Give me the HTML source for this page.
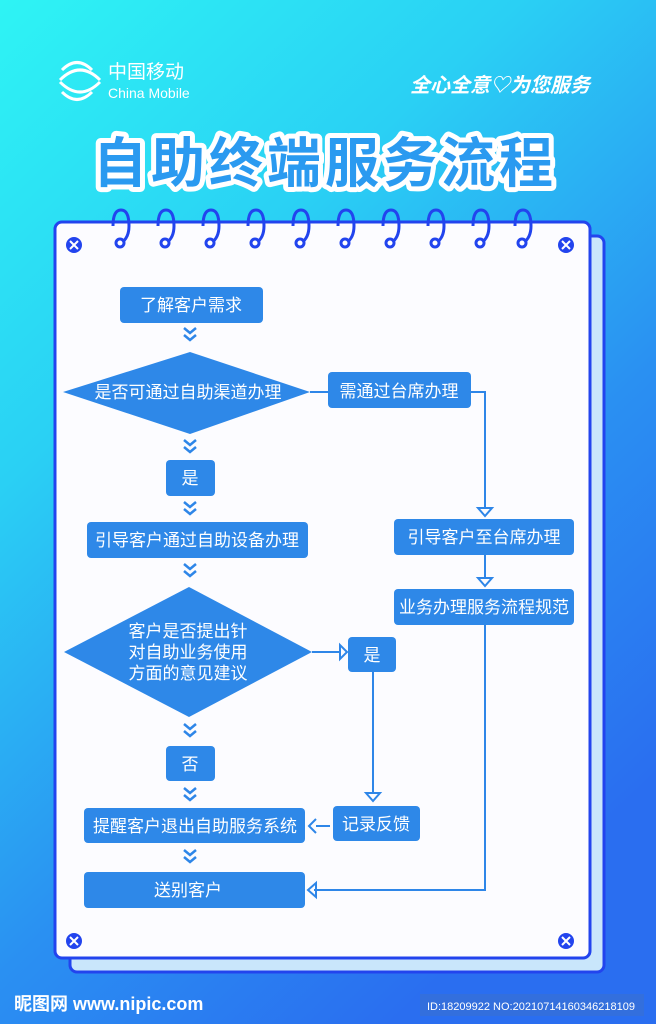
<!DOCTYPE html>
<html><head><meta charset="utf-8"><style>
body{margin:0;width:656px;height:1024px;overflow:hidden;font-family:"Liberation Sans","Noto Sans CJK SC",sans-serif}
</style></head><body>
<svg width="656" height="1024" viewBox="0 0 656 1024" xmlns="http://www.w3.org/2000/svg" font-family="Liberation Sans, Noto Sans CJK SC, sans-serif">
<defs>
<linearGradient id="bg" x1="0" y1="0" x2="0.6" y2="1">
<stop offset="0" stop-color="#2ef4f4"/><stop offset="0.35" stop-color="#2ad0f4"/><stop offset="0.7" stop-color="#2a90f2"/><stop offset="1" stop-color="#2a6ef0"/>
</linearGradient>
</defs>
<rect width="656" height="1024" fill="url(#bg)"/>
<g fill="none" stroke="#fff" stroke-width="3">
<path d="M62 70 q15-15 30 0 M60 80 q20-20 40 0 M62 92 q15 15 30 0 M60 82 q20 20 40 0"/>
</g>
<text x="108" y="78" fill="#fff" font-size="19">中国移动</text>
<text x="108" y="98" fill="#fff" font-size="14">China Mobile</text>
<text x="410" y="92" fill="#fff" font-size="20" font-style="italic" font-weight="bold">全心全意♡为您服务</text>
<text x="325" y="182" text-anchor="middle" font-size="54" font-weight="bold" fill="#2a9af0" stroke="#fff" stroke-width="10" stroke-linejoin="round" paint-order="stroke" letter-spacing="4">自助终端服务流程</text>
<rect x="70" y="236" width="534" height="736" rx="7" fill="#c9e6fb" stroke="#2244ee" stroke-width="3"/>
<rect x="55" y="222" width="535" height="736" rx="7" fill="#fcfcff" stroke="#2244ee" stroke-width="3"/>
<g fill="none" stroke="#2244ee" stroke-width="3">
<path d="M113 226 q0-16 8-16 q8 0 8 16 q0 12 -8 17"/>
<path d="M158 226 q0-16 8-16 q8 0 8 16 q0 12 -8 17"/>
<path d="M203 226 q0-16 8-16 q8 0 8 16 q0 12 -8 17"/>
<path d="M248 226 q0-16 8-16 q8 0 8 16 q0 12 -8 17"/>
<path d="M293 226 q0-16 8-16 q8 0 8 16 q0 12 -8 17"/>
<path d="M338 226 q0-16 8-16 q8 0 8 16 q0 12 -8 17"/>
<path d="M383 226 q0-16 8-16 q8 0 8 16 q0 12 -8 17"/>
<path d="M428 226 q0-16 8-16 q8 0 8 16 q0 12 -8 17"/>
<path d="M473 226 q0-16 8-16 q8 0 8 16 q0 12 -8 17"/>
<path d="M515 226 q0-16 8-16 q8 0 8 16 q0 12 -8 17"/>
</g>
<g fill="#fff" stroke="#2244ee" stroke-width="3">
<circle cx="120" cy="243" r="4"/><circle cx="165" cy="243" r="4"/><circle cx="210" cy="243" r="4"/><circle cx="255" cy="243" r="4"/><circle cx="300" cy="243" r="4"/><circle cx="345" cy="243" r="4"/><circle cx="390" cy="243" r="4"/><circle cx="435" cy="243" r="4"/><circle cx="480" cy="243" r="4"/><circle cx="522" cy="243" r="4"/>
</g>
<g fill="#2244ee"><circle cx="74" cy="245" r="8"/><circle cx="566" cy="245" r="8"/><circle cx="74" cy="941" r="8"/><circle cx="566" cy="941" r="8"/></g>
<g stroke="#fff" stroke-width="2"><path d="M70 241l8 8M78 241l-8 8M562 241l8 8M570 241l-8 8M70 937l8 8M78 937l-8 8M562 937l8 8M570 937l-8 8"/></g>
<g fill="none" stroke="#2e86e8" stroke-width="2">
<path d="M310 392H328M471 392H485V508"/>
<path d="M485 555V578"/>
<path d="M485 624V890H314"/>
<path d="M312 652H340"/>
<path d="M373 672V792"/>
<path d="M330 826H316"/>
<path d="M478 508h14l-7 8z M478 578h14l-7 8z M340 645v14l7-7z M366 793h14l-7 8z M316 819l-7 7 7 7 M316 883l-8 7 8 7z"/>
</g>
<g fill="none" stroke="#2e86e8" stroke-width="2.5">
<path d="M184 328l6 5 6-5M184 335l6 5 6-5"/>
<path d="M184 440l6 5 6-5M184 447l6 5 6-5"/>
<path d="M184 502l6 5 6-5M184 509l6 5 6-5"/>
<path d="M184 564l6 5 6-5M184 571l6 5 6-5"/>
<path d="M184 724l6 5 6-5M184 731l6 5 6-5"/>
<path d="M184 788l6 5 6-5M184 795l6 5 6-5"/>
<path d="M184 850l6 5 6-5M184 857l6 5 6-5"/>
</g>
<g fill="#2e88e8">
<rect x="120" y="287" width="143" height="36" rx="4"/>
<polygon points="63,392 190,352 310,392 190,434"/>
<rect x="328" y="372" width="143" height="36" rx="4"/>
<rect x="166" y="460" width="49" height="36" rx="4"/>
<rect x="87" y="522" width="221" height="36" rx="4"/>
<rect x="394" y="519" width="180" height="36" rx="4"/>
<rect x="394" y="589" width="180" height="36" rx="4"/>
<polygon points="64,652 189,587 312,652 189,717"/>
<rect x="348" y="637" width="48" height="35" rx="4"/>
<rect x="166" y="746" width="49" height="35" rx="4"/>
<rect x="84" y="808" width="221" height="35" rx="4"/>
<rect x="333" y="806" width="87" height="35" rx="4"/>
<rect x="84" y="872" width="221" height="36" rx="4"/>
</g>
<g fill="#fff" font-size="17" text-anchor="middle">
<text x="191" y="311">了解客户需求</text>
<text x="188" y="398">是否可通过自助渠道办理</text>
<text x="399" y="397">需通过台席办理</text>
<text x="190" y="484">是</text>
<text x="197" y="546">引导客户通过自助设备办理</text>
<text x="484" y="543">引导客户至台席办理</text>
<text x="484" y="613">业务办理服务流程规范</text>
<text x="188" y="637">客户是否提出针</text>
<text x="188" y="658">对自助业务使用</text>
<text x="188" y="679">方面的意见建议</text>
<text x="372" y="661">是</text>
<text x="190" y="770">否</text>
<text x="195" y="832">提醒客户退出自助服务系统</text>
<text x="376" y="830">记录反馈</text>
<text x="188" y="896">送别客户</text>
</g>
<text x="14" y="1010" fill="#fff" font-size="18" font-weight="bold">昵图网 www.nipic.com</text>
<rect x="420" y="994" width="224" height="22" fill="#3a6fd0" opacity="0.6"/>
<text x="427" y="1010" fill="#fff" font-size="11">ID:18209922 NO:20210714160346218109</text>
</svg>
</body></html>
